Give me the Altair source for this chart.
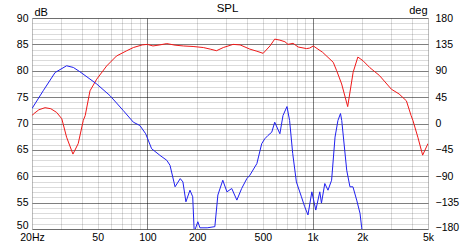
import altair as alt
import pandas as pd

# SPL (red, left axis, dB)
spl_freq = [20, 20.4, 22, 24, 26, 28.2, 30.3, 32.4, 35.4, 38.1, 40.9, 42, 44.9, 49.3, 56.6, 65, 75, 82.2,
            93, 100, 108, 119, 131, 147, 165, 189, 218, 240, 262, 288, 330, 364, 417, 460, 502, 552,
            590, 634, 680, 710, 762, 818, 920, 960, 1010, 1150, 1334, 1400, 1500, 1632, 1760, 1880,
            2020, 2220, 2540, 3000, 3340, 3700, 3950, 4050, 4340, 4640, 5000]
spl_db = [71.5, 71.8, 72.6, 73.0, 72.8, 72.1, 70.9, 67.4, 64.2, 66.2, 70.6, 71.5, 76.2, 78.4, 80.9, 82.8, 83.8, 84.4,
          84.9, 85.0, 84.7, 84.9, 85.15, 84.85, 84.7, 84.6, 84.4, 84.1, 83.8, 84.4, 85.0, 84.9, 84.1, 83.7, 83.3, 84.7,
          86.0, 85.8, 85.5, 85.0, 85.2, 84.5, 84.2, 84.3, 84.7, 83.5, 81.6, 80.0, 77.5, 73.2, 79.7, 82.6,
          81.9, 80.6, 79.1, 76.5, 75.6, 74.3, 71.5, 70.6, 67.4, 64.0, 66.2]

# Phase (blue, right axis, deg)
ph_freq = [20, 23.4, 27.6, 32.4, 35.6, 39, 49.3, 59.3, 71.4, 82.2, 90, 97.6, 106, 119, 131, 137, 147, 158,
           164, 171, 181, 188, 192, 202, 208, 230, 256, 267, 286, 303, 324, 348, 372, 400, 417, 460, 492,
           514, 537, 566, 590, 634, 662, 700, 726, 758, 798, 856, 896, 938, 990, 1046, 1106, 1132, 1186,
           1240, 1304, 1368, 1424, 1476, 1502, 1610, 1684, 1756, 1850, 1938, 1984, 2000]
ph_deg = [25.5, 56, 87, 98.5, 95.6, 88.3, 67.4, 47.6, 22.1, 2.2, -3.4, -17.5, -43, -54.3, -62.8, -71.3, -108, -94,
          -99.7, -133.6, -113.8, -125, -185, -167.6, -178, -178, -176, -122, -96.8, -116.6, -110.9, -130.7, -110.9, -94, -88.3, -68.4, -34.5,
          -26, -20.4, -14.8, 2.2, -17.5, 13.6, 28.9, 5.1, -51, -99.7, -125, -142, -156, -116.6, -147.7, -116.6, -135.8, -102.4,
          -113.8, -96.8, -23.2, 5.1, 17, 5.1, -79.8, -108, -108, -130.7, -153.3, -178, -195]

x_grid = [20, 30, 40, 50, 60, 70, 80, 90, 100, 200, 300, 400, 500, 600, 700, 800, 900,
          1000, 2000, 3000, 4000, 5000]
db_ticks = list(range(50, 91))
deg_ticks = list(range(-180, 181, 45))

spl_df = pd.DataFrame({"f": spl_freq, "v": spl_db})
ph_df = pd.DataFrame({"f": ph_freq, "v": ph_deg})

FONT = "Liberation Sans"
FS = 10.5
MAJOR = "rgba(0,0,0,0.5)"
MINOR = "rgba(0,0,0,0.14)"

x_label_expr = ("datum.value == 20 ? '20Hz' : datum.value == 50 ? '50' : datum.value == 100 ? '100' : "
                "datum.value == 200 ? '200' : datum.value == 500 ? '500' : datum.value == 1000 ? '1k' : "
                "datum.value == 2000 ? '2k' : datum.value == 5000 ? '5k' : ''")

x_enc = alt.X("f:Q",
              scale=alt.Scale(type="log", domain=[20, 5000], nice=False),
              axis=alt.Axis(values=x_grid, labelExpr=x_label_expr, ticks=False, domain=False,
                            labelFlush=False, labelOverlap=False, labelBound=False, labelPadding=3,
                            labelFont=FONT, labelFontSize=FS, labelColor="#000",
                            gridColor=alt.condition("datum.value == 100 || datum.value == 1000",
                                                    alt.value(MAJOR), alt.value(MINOR)),
                            title="SPL", titleX=195, titleY=-218, titleAlign="center",
                            titleBaseline="alphabetic", titleFont=FONT, titleFontSize=11.5,
                            titleFontWeight="normal", titleColor="#000"))

red = alt.Chart(spl_df).mark_line(color="#f01818", strokeWidth=1, clip=True).encode(
    x=x_enc,
    y=alt.Y("v:Q", scale=alt.Scale(domain=[50, 90], nice=False),
            axis=alt.Axis(values=db_ticks, orient="left", ticks=False, domain=False,
                          labelExpr="datum.value % 5 == 0 ? datum.label : ''",
                          labelOverlap=False, labelFlush=False, labelPadding=4,
                          labelOffset=alt.condition("datum.value == 50", alt.value(-4), alt.value(0)),
                          labelFont=FONT, labelFontSize=FS, labelColor="#000",
                          gridColor=alt.condition("datum.value % 5 == 0",
                                                  alt.value(MAJOR), alt.value(MINOR)),
                          title="dB", titleAngle=0, titleX=2, titleY=-3, titleAlign="left",
                          titleBaseline="alphabetic", titleFont=FONT, titleFontSize=FS + 0.5,
                          titleFontWeight="normal", titleColor="#000"))
)

blue = alt.Chart(ph_df).mark_line(color="#2020f0", strokeWidth=1, clip=True).encode(
    x=x_enc,
    y=alt.Y("v:Q", scale=alt.Scale(domain=[-180, 180], nice=False),
            axis=alt.Axis(values=deg_ticks, orient="right", grid=False, ticks=False, domain=False,
                          labelOverlap=False, labelFlush=False, labelPadding=7,
                          labelOffset=alt.condition("datum.value == -180", alt.value(-2), alt.value(0)),
                          labelFont=FONT, labelFontSize=FS, labelColor="#000",
                          title="deg", titleAngle=0, titleX=-1, titleY=-5, titleAlign="right",
                          titleBaseline="alphabetic", titleFont=FONT, titleFontSize=FS + 0.5,
                          titleFontWeight="normal", titleColor="#000"))
)

chart = alt.layer(red, blue).resolve_scale(y="independent").properties(
    width=396, height=211,
    autosize=alt.AutoSizeParams(type="none"),
    padding={"left": 32, "right": 32, "top": 18, "bottom": 18},
).configure_view(stroke="#808080", strokeWidth=1).configure(background="white")

chart.save("out.html", embed_options={"renderer": "svg", "actions": False})
